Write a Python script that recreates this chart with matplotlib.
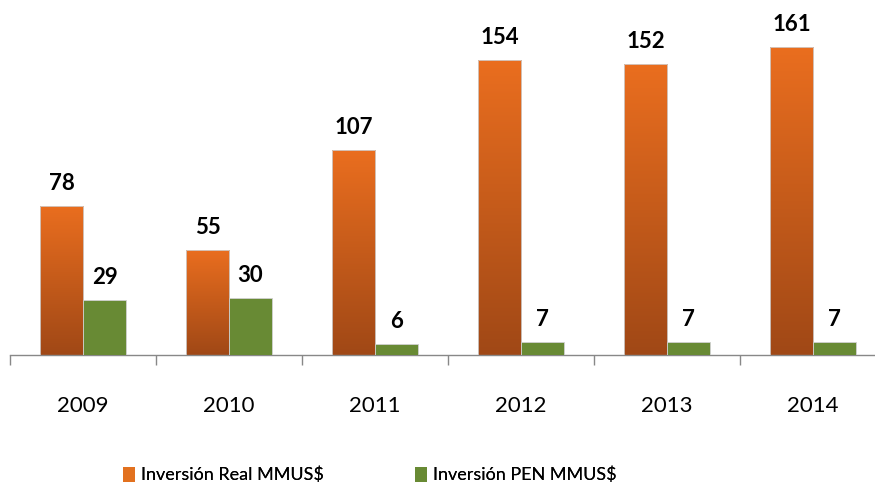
import matplotlib
matplotlib.use("Agg")
import matplotlib.pyplot as plt
import numpy as np
from matplotlib.colors import LinearSegmentedColormap
from matplotlib.patches import Patch

years = ["2009", "2010", "2011", "2012", "2013", "2014"]
inv_real = [78, 55, 107, 154, 152, 161]
inv_pen = [29, 30, 6, 7, 7, 7]

ORANGE_TOP = "#EA6E1F"
ORANGE_BOT = "#A04816"
GREEN = "#688A34"

plt.rcParams["font.family"] = ["Lato", "DejaVu Sans"]

fig = plt.figure(figsize=(8.75, 4.87), dpi=100)
ax = fig.add_axes([10 / 875, 1 - 355 / 487, 876 / 875, 355 / 487])

x = np.arange(len(years))
w = 0.295
grad_cmap = LinearSegmentedColormap.from_list("org", [ORANGE_BOT, ORANGE_TOP])
grad = np.linspace(0, 1, 256).reshape(-1, 1)

bars_real = ax.bar(x - w / 2, inv_real, w, color="none", edgecolor="#d0d0d0",
                   linewidth=0.6, zorder=3)
for b in bars_real:
    x0, y0 = b.get_x(), b.get_y()
    im = ax.imshow(grad, extent=[x0, x0 + b.get_width(), y0, y0 + b.get_height()],
                   origin="lower", cmap=grad_cmap, aspect="auto", zorder=2)
    im.set_clip_path(b)

ax.bar(x + w / 2, inv_pen, w, color=GREEN, edgecolor="#d0d0d0", linewidth=0.6,
       zorder=3)

# value labels, baseline ~16 px above the bar top
for xi, v in zip(x, inv_real):
    ax.annotate(str(v), (xi - w / 2, v), xytext=(0, 16), textcoords="offset pixels",
                ha="center", va="baseline", fontsize=16, fontweight="bold")
for xi, v in zip(x, inv_pen):
    ax.annotate(str(v), (xi + w / 2, v), xytext=(0, 16), textcoords="offset pixels",
                ha="center", va="baseline", fontsize=16, fontweight="bold")

ax.set_xlim(-0.5, len(years) - 0.5)
ax.set_ylim(0, 185.5)
ax.set_yticks([])
for s in ["top", "right", "left"]:
    ax.spines[s].set_visible(False)
ax.spines["bottom"].set_color("#888888")
ax.spines["bottom"].set_linewidth(1.0)

ax.set_xticks(np.arange(len(years) + 1) - 0.5)
ax.set_xticklabels([])
ax.tick_params(axis="x", length=7, color="#888888", width=1.0)
for xi, y in zip(x, years):
    ax.annotate(y, (xi, 0), xytext=(0, -57), textcoords="offset pixels",
                ha="center", va="baseline", fontsize=16, annotation_clip=False)

# two single-entry legends so each item sits where the reference puts it
legend_items = [
    (Patch(facecolor="#E2711F", edgecolor="none"), "Inversión Real MMUS$", 123),
    (Patch(facecolor=GREEN, edgecolor="none"), "Inversión PEN MMUS$", 415),
]
for handle, label, xpix in legend_items:
    leg = fig.legend([handle], [label], loc="center left",
                     bbox_to_anchor=(xpix / 875, 1 - 475 / 487), frameon=False,
                     fontsize=13, handlelength=0.67, handleheight=0.9,
                     handletextpad=0.32, borderpad=0, borderaxespad=0)
    fig.add_artist(leg)

fig.savefig("out.png", dpi=100)
